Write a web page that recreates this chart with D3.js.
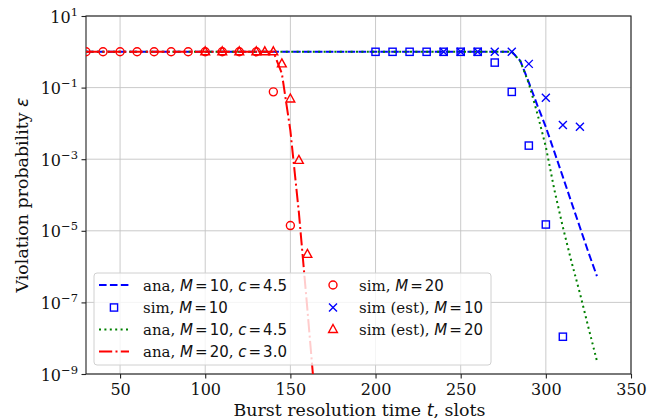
<!DOCTYPE html>
<html>
<head>
<meta charset="utf-8">
<script src="https://cdn.jsdelivr.net/npm/d3@7"></script>
<style>
  body { margin: 0; background: #fff; }
  svg { display: block; }
</style>
</head>
<body>
<svg id="chart" width="660" height="420"></svg>
<script>
// ---- data ----
const xTicks = [50, 100, 150, 200, 250, 300, 350];
const yTickExps = [1, -1, -3, -5, -7, -9];

// analytic curves
const tAnaBlue = [30, 280, 285, 290, 295, 300, 305, 310, 315, 320, 325, 330];
const epsAnaBlue = [1, 1, 0.56, 0.14, 0.032, 7.9e-3, 1.6e-3, 3.2e-4, 6.3e-5, 1.26e-5, 2.5e-6, 5.4e-7];
const tAnaGreen = [30, 280, 285, 290, 295, 300, 305, 310, 315, 320, 325, 330];
const epsAnaGreen = [1, 1, 0.55, 0.13, 0.019, 2.2e-3, 1.4e-4, 1.26e-5, 1.4e-6, 1.8e-7, 2e-8, 2.3e-9];
const tAnaRed = [30, 140, 145, 150, 155, 160, 165];
const epsAnaRed = [1, 1, 0.25, 6.3e-3, 3.2e-5, 6.3e-8, 1e-10];

// simulations
const tSimM10 = [200, 210, 220, 230, 240, 250, 260, 270, 280, 290, 300, 310];
const epsSimM10 = [1, 1, 1, 1, 1, 1, 1, 0.5, 0.076, 2.4e-3, 1.5e-5, 1.1e-8];
const tSimM20 = [30, 40, 50, 60, 70, 80, 90, 100, 110, 120, 130, 140, 150];
const epsSimM20 = [1, 1, 1, 1, 1, 1, 1, 1, 1, 1, 1, 0.076, 1.4e-5];
const tEstM10 = [240, 250, 260, 270, 280, 290, 300, 310, 320];
const epsEstM10 = [1, 1, 1, 1, 1, 0.46, 0.052, 9e-3, 8e-3];
const tEstM20 = [100, 110, 120, 130, 135, 140, 145, 150, 155, 160];
const epsEstM20 = [1, 1, 1, 1, 1, 1, 0.46, 0.048, 9.3e-4, 2.2e-6];

// ---- layout ----
const L = 86, R = 631, T = 16, B = 374;
const serif = "'DejaVu Serif', serif";
const sans = "'DejaVu Sans', sans-serif";
const FS = 16, FS_LAB = 17.4, FS_LEG = 15;

const svg = d3.select('#chart');
const x = d3.scaleLinear().domain([30, 350]).range([L, R]);
const y = d3.scaleLog().domain([1e-9, 10]).range([B, T]);

svg.append('defs').append('clipPath').attr('id', 'clip')
  .append('rect').attr('x', L).attr('y', T).attr('width', R - L).attr('height', B - T);

// grid
const grid = svg.append('g').attr('stroke', '#c4c4c4').attr('stroke-width', 0.9);
grid.selectAll('.gx').data(xTicks).enter().append('line')
  .attr('x1', d => x(d)).attr('x2', d => x(d)).attr('y1', T).attr('y2', B);
grid.selectAll('.gy').data(yTickExps).enter().append('line')
  .attr('y1', d => y(Math.pow(10, d))).attr('y2', d => y(Math.pow(10, d))).attr('x1', L).attr('x2', R);

// x axis
const xAxis = svg.append('g').attr('transform', `translate(0,${B})`)
  .call(d3.axisBottom(x).tickValues(xTicks).tickSize(4.5).tickPadding(5.5).tickFormat(d3.format('d')));
xAxis.select('.domain').remove();
xAxis.selectAll('line').attr('stroke', '#222').attr('stroke-width', 1.1);
xAxis.selectAll('text').attr('font-family', serif).attr('font-size', FS).attr('fill', '#111');

// y axis
const yAxis = svg.append('g').attr('transform', `translate(${L},0)`)
  .call(d3.axisLeft(y).tickValues(yTickExps.map(e => Math.pow(10, e))).tickSize(4.5).tickFormat(''));
yAxis.select('.domain').remove();
yAxis.selectAll('line').attr('stroke', '#222').attr('stroke-width', 1.1);
yAxis.selectAll('.tick').each(function (d) {
  const e = Math.round(Math.log10(d));
  const t = d3.select(this).append('text')
    .attr('x', -8).attr('y', 6).attr('text-anchor', 'end')
    .attr('font-family', serif).attr('font-size', FS).attr('fill', '#111');
  t.append('tspan').text('10');
  t.append('tspan').attr('font-size', 11.5).attr('dy', -7).text(e < 0 ? '\u2212' + (-e) : String(e));
});

// frame
svg.append('rect').attr('x', L).attr('y', T).attr('width', R - L).attr('height', B - T)
  .attr('fill', 'none').attr('stroke', '#222').attr('stroke-width', 1.1);

// axis labels
const xl = svg.append('text').attr('x', (L + R) / 2 + 1).attr('y', 415.6).attr('text-anchor', 'middle')
  .attr('font-family', serif).attr('font-size', FS_LAB).attr('fill', '#111');
xl.append('tspan').text('Burst resolution time ');
xl.append('tspan').attr('font-family', sans).attr('font-style', 'italic').text('t');
xl.append('tspan').text(', slots');

const yl = svg.append('text').attr('transform', `translate(28,${(T + B) / 2}) rotate(-90)`)
  .attr('text-anchor', 'middle').attr('font-family', serif).attr('font-size', FS_LAB).attr('fill', '#111');
yl.append('tspan').text('Violation probability ');
yl.append('tspan').attr('font-family', sans).attr('font-style', 'italic').text('\u03b5');

// ---- series ----
const plot = svg.append('g').attr('clip-path', 'url(#clip)');
const line = d3.line().x(d => x(d[0])).y(d => y(d[1]));
const zip = (a, b) => a.map((v, i) => [v, b[i]]);

const styles = {
  blueDash: { color: '#0000ff', dash: '7.6,3.3' },
  greenDot: { color: '#008000', dash: '2,3.4' },
  redDashDot: { color: '#ff0000', dash: '13.2,3.3,2,3.3' }
};

function drawLine(ts, es, st) {
  plot.append('path').datum(zip(ts, es)).attr('d', line)
    .attr('fill', 'none').attr('stroke', st.color).attr('stroke-width', 2)
    .attr('stroke-dasharray', st.dash);
}

function marker(g, kind, color) {
  if (kind === 'square') {
    g.append('rect').attr('x', -3.6).attr('y', -3.6).attr('width', 7.2).attr('height', 7.2)
      .attr('fill', 'none').attr('stroke', color).attr('stroke-width', 1.4);
  } else if (kind === 'circle') {
    g.append('circle').attr('r', 4).attr('fill', 'none').attr('stroke', color).attr('stroke-width', 1.4);
  } else if (kind === 'tri') {
    g.append('path').attr('d', 'M0,-5 L4.4,3 L-4.4,3 Z')
      .attr('fill', 'none').attr('stroke', color).attr('stroke-width', 1.4);
  } else if (kind === 'x') {
    g.append('path').attr('d', 'M-4,-4 L4,4 M-4,4 L4,-4')
      .attr('fill', 'none').attr('stroke', color).attr('stroke-width', 1.4);
  }
}

function drawMarkers(ts, es, kind, color) {
  plot.append('g').selectAll('g').data(zip(ts, es)).enter().append('g')
    .attr('transform', d => `translate(${x(d[0])},${y(d[1])})`)
    .each(function () { marker(d3.select(this), kind, color); });
}

drawLine(tAnaBlue, epsAnaBlue, styles.blueDash);
drawMarkers(tSimM10, epsSimM10, 'square', '#0000ff');
drawLine(tAnaGreen, epsAnaGreen, styles.greenDot);
drawLine(tAnaRed, epsAnaRed, styles.redDashDot);
drawMarkers(tSimM20, epsSimM20, 'circle', '#ff0000');
drawMarkers(tEstM10, epsEstM10, 'x', '#0000ff');
drawMarkers(tEstM20, epsEstM20, 'tri', '#ff0000');

// ---- legend ----
const leg = svg.append('g');
leg.append('rect').attr('x', 94).attr('y', 273).attr('width', 397).attr('height', 92).attr('rx', 3)
  .attr('fill', '#fff').attr('fill-opacity', 0.8).attr('stroke', '#d0d0d0').attr('stroke-width', 1);

const legItems = [
  { col: 0, row: 0, type: 'line', st: styles.blueDash, pre: 'ana, ', M: '10', c: '4.5' },
  { col: 0, row: 1, type: 'mark', kind: 'square', color: '#0000ff', pre: 'sim, ', M: '10' },
  { col: 0, row: 2, type: 'line', st: styles.greenDot, pre: 'ana, ', M: '10', c: '4.5' },
  { col: 0, row: 3, type: 'line', st: styles.redDashDot, pre: 'ana, ', M: '20', c: '3.0' },
  { col: 1, row: 0, type: 'mark', kind: 'circle', color: '#ff0000', pre: 'sim, ', M: '20' },
  { col: 1, row: 1, type: 'mark', kind: 'x', color: '#0000ff', pre: 'sim (est), ', M: '10' },
  { col: 1, row: 2, type: 'mark', kind: 'tri', color: '#ff0000', pre: 'sim (est), ', M: '20' }
];
const colX = [99, 318], textX = [143, 359], rowY = [285, 307.5, 329.5, 351.5];

// math part: italic symbol, '=' and value with small relation gaps
function mathPart(t, sym, val) {
  t.append('tspan').attr('font-family', sans).attr('font-style', 'italic').text(sym);
  t.append('tspan').attr('font-family', sans).attr('dx', 2).text('=');
  t.append('tspan').attr('font-family', sans).attr('dx', 2).text(val);
}

legItems.forEach(it => {
  const hx = colX[it.col], cy = rowY[it.row];
  if (it.type === 'line') {
    leg.append('line').attr('x1', hx).attr('x2', hx + 30).attr('y1', cy).attr('y2', cy)
      .attr('stroke', it.st.color).attr('stroke-width', 2).attr('stroke-dasharray', it.st.dash);
  } else {
    marker(leg.append('g').attr('transform', `translate(${hx + 15},${cy})`), it.kind, it.color);
  }
  const t = leg.append('text').attr('x', textX[it.col]).attr('y', cy + 5.5)
    .attr('font-family', serif).attr('font-size', FS_LEG).attr('fill', '#111');
  t.append('tspan').text(it.pre);
  mathPart(t, 'M', it.M);
  if (it.c) {
    t.append('tspan').text(', ');
    mathPart(t, 'c', it.c);
  }
});
</script>
</body>
</html>
